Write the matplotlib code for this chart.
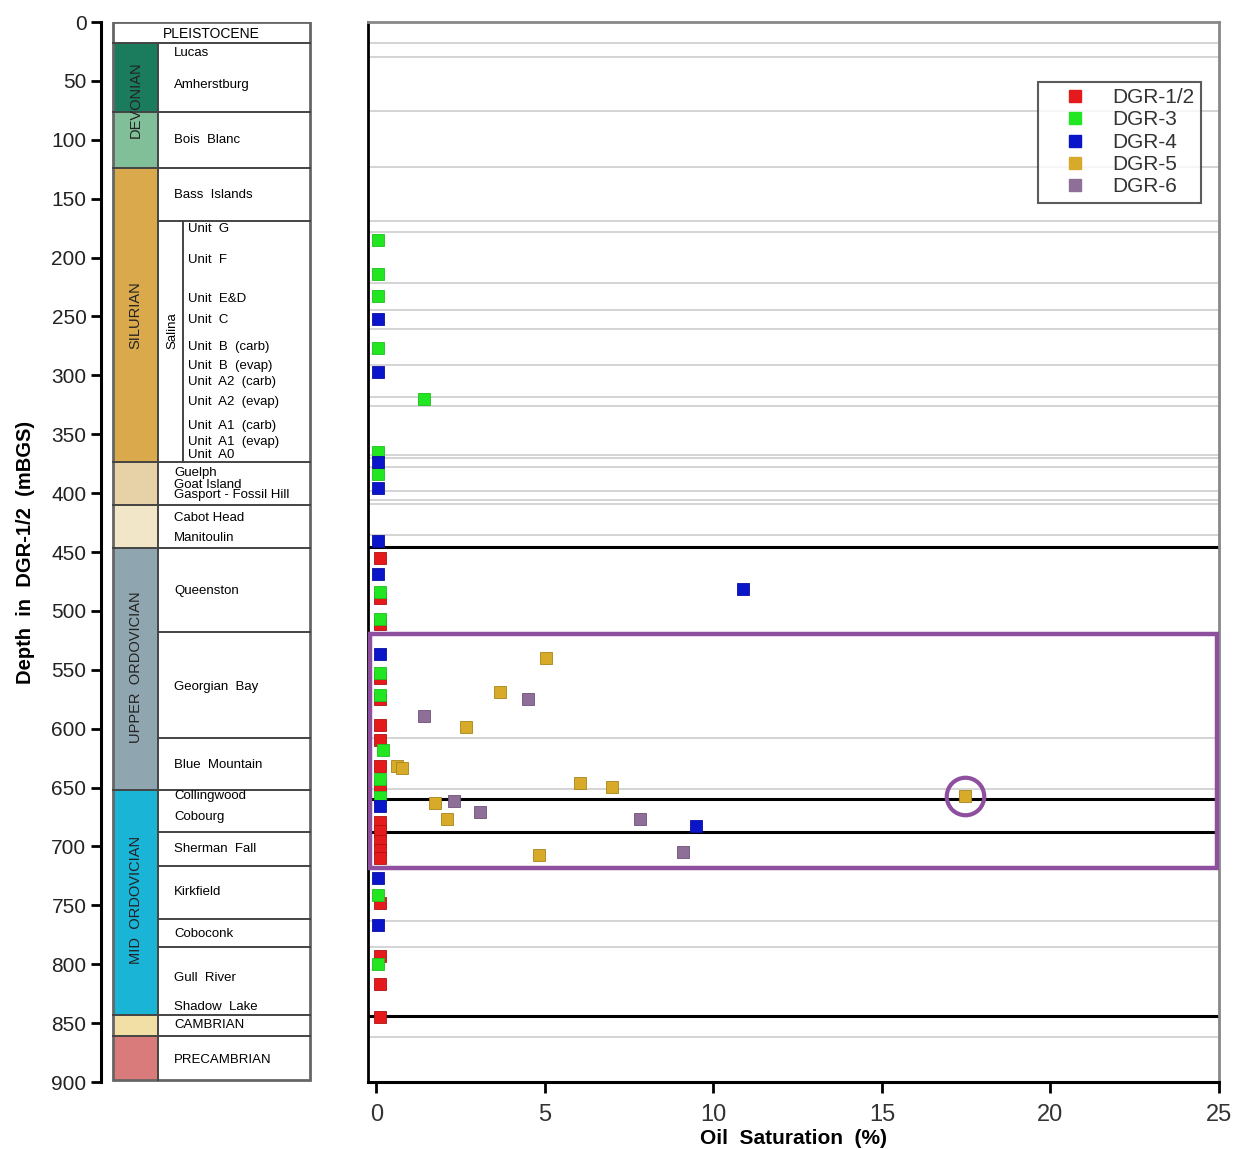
import matplotlib
matplotlib.use('Agg')
import matplotlib.pyplot as plt
from matplotlib.patches import Rectangle
from matplotlib.lines import Line2D

plt.rcParams['font.family'] = ['Liberation Sans', 'DejaVu Sans']

# ---- stratigraphic column (depths in m) ----
block_top = [18, 76, 124, 374, 410, 446.5, 652, 843, 861]
block_bot = [76, 124, 374, 410, 446.5, 652, 843, 861, 898]
block_colors = ['#1b7b5d', '#80bf97', '#d9a94c', '#e6d2a6', '#f2e6c9',
                '#8fa6b0', '#1ab4d6', '#f1dfa5', '#d97b7b']
formation_bounds = [169, 518, 608, 688, 716.5, 762, 785]

period_names = ['DEVONIAN', 'SILURIAN', 'UPPER  ORDOVICIAN', 'MID  ORDOVICIAN']
period_depth = [66, 249, 548, 745]

formation_names = ['Lucas', 'Amherstburg', 'Bois  Blanc', 'Bass  Islands',
                   'Guelph', 'Goat Island', 'Gasport - Fossil Hill',
                   'Cabot Head', 'Manitoulin', 'Queenston', 'Georgian  Bay',
                   'Blue  Mountain', 'Collingwood', 'Cobourg', 'Sherman  Fall',
                   'Kirkfield', 'Coboconk', 'Gull  River', 'Shadow  Lake',
                   'CAMBRIAN', 'PRECAMBRIAN']
formation_depth = [26, 53.5, 100, 147, 383, 393, 402, 421, 438, 483, 564.5,
                   631, 657, 675, 702, 739, 774, 812, 836, 852, 881]

unit_names = ['Unit  G', 'Unit  F', 'Unit  E&D', 'Unit  C', 'Unit  B  (carb)',
              'Unit  B  (evap)', 'Unit  A2  (carb)', 'Unit  A2  (evap)',
              'Unit  A1  (carb)', 'Unit  A1  (evap)', 'Unit  A0']
unit_depth = [176, 202, 235, 253, 276, 292, 306, 322.5, 343, 356.5, 367.5]

# ---- oil saturation data ----
red_sat = [0.1, 0.1, 0.1, 0.1, 0.1, 0.1, 0.1, 0.1, 0.1, 0.1, 0.1, 0.1, 0.1, 0.1, 0.1, 0.1, 0.1, 0.1]
red_depth = [455, 489, 511, 557, 575, 597, 610, 632, 649, 679, 687, 695, 703, 710, 748, 793, 817, 845]

green_sat = [0.05, 0.05, 0.05, 0.05, 1.42, 0.05, 0.05, 0.1, 0.1, 0.1, 0.1, 0.2, 0.1, 0.1, 0.05, 0.05]
green_depth = [185, 214, 233, 277, 320, 365, 384, 484, 507, 553, 571, 618, 643, 658, 741, 800]

blue_sat = [0.05, 0.05, 0.05, 0.05, 0.05, 0.05, 10.88, 0.1, 0.1, 9.49, 0.05, 0.05]
blue_depth = [252, 297, 374, 396, 441, 469, 481, 537, 666, 683, 727, 767]

gold_sat = [5.03, 3.68, 2.67, 0.62, 0.76, 6.03, 6.99, 1.75, 2.08, 4.83, 17.47]
gold_depth = [540, 569, 598.5, 632, 633, 646, 649.5, 663, 677, 707, 657]

purple_sat = [1.42, 4.49, 2.29, 3.08, 7.81, 9.09]
purple_depth = [589.5, 575, 661, 671, 676.5, 704.5]

grey_lines = [17.8, 30, 75.5, 123, 169, 178, 222, 244.5, 260.6, 291, 318, 326,
              367.6, 370, 378, 398, 406, 409, 435.5, 607.5, 651, 763, 785, 861.6]
black_lines = [446, 660, 688, 844]

W, H = 1233, 1149


def fig_rect(x0, y0, x1, y1):
    return [x0 / W, 1 - y1 / H, (x1 - x0) / W, (y1 - y0) / H]


fig = plt.figure(figsize=(W / 100, H / 100), dpi=100)
ax_col = fig.add_axes(fig_rect(101, 22, 312, 1082))
ax = fig.add_axes(fig_rect(368, 22, 1219, 1082))

# ---- column panel ----
ax_col.set_xlim(0, 211)
ax_col.set_ylim(900, 0)
for top, bot, c in zip(block_top, block_bot, block_colors):
    ax_col.add_patch(Rectangle((12, top), 45, bot - top, facecolor=c, edgecolor='none'))
for d in block_top:
    ax_col.plot([12, 209], [d, d], color='#444444', lw=1.4)
for d in formation_bounds:
    ax_col.plot([57, 209], [d, d], color='#444444', lw=1.4)
ax_col.plot([57, 57], [18, 898], color='#444444', lw=1.4)
ax_col.plot([82, 82], [169, 374], color='#444444', lw=1.4)
ax_col.add_patch(Rectangle((12, 0), 197, 898, fill=False, edgecolor='#666666', lw=2))

ax_col.text(110, 10, 'PLEISTOCENE', ha='center', va='center', fontsize=10)
for name, d in zip(period_names, period_depth):
    ax_col.text(34.5, d, name, rotation=90, ha='center', va='center',
                fontsize=10.5, color='#222222')
ax_col.text(71, 262, 'Salina', rotation=90, ha='center', va='center', fontsize=9.5)
for name, d in zip(formation_names, formation_depth):
    ax_col.text(73, d, name, ha='left', va='center', fontsize=9.5)
for name, d in zip(unit_names, unit_depth):
    ax_col.text(87, d, name, ha='left', va='center', fontsize=9.5)

for side in ['top', 'right', 'bottom']:
    ax_col.spines[side].set_visible(False)
ax_col.spines['left'].set_linewidth(2.2)
ax_col.set_xticks([])
ax_col.set_yticks(range(0, 901, 50))
ax_col.tick_params(axis='y', direction='out', length=7, width=2, labelsize=15,
                   labelcolor='#222222')
ax_col.set_ylabel('Depth  in  DGR-1/2  (mBGS)', fontsize=14.5, fontweight='bold',
                  labelpad=12)

# ---- saturation panel ----
ax.set_xlim(-0.25, 25)
ax.set_ylim(900, 0)
for d in grey_lines:
    ax.axhline(d, color='#d4d4d4', lw=1.4, zorder=1)
for d in black_lines:
    ax.axhline(d, color='black', lw=2.2, zorder=2)

ax.add_patch(Rectangle((-0.18, 519.5), 25.12, 198.5, fill=False,
                       edgecolor='#8e4f9e', lw=3.2, zorder=3))

ms = 9
ax.plot(red_sat, red_depth, 's', color='#e41a1c', mec='#b01010', mew=0.6, ms=ms, zorder=4)
ax.plot(green_sat, green_depth, 's', color='#22e622', mec='#1cc01c', mew=0.6, ms=ms, zorder=5)
ax.plot(blue_sat, blue_depth, 's', color='#0a14c8', mec='#0a0ea0', mew=0.6, ms=ms, zorder=5)
ax.plot(gold_sat, gold_depth, 's', color='#d8aa2a', mec='#a88418', mew=0.6, ms=ms, zorder=6)
ax.plot(purple_sat, purple_depth, 's', color='#8e6f98', mec='#6e5078', mew=0.6, ms=ms, zorder=6)

# highlighted DGR-5 sample
ax.plot([gold_sat[-1]], [gold_depth[-1]], 'o', ms=27, mfc='none', mec='#8e4f9e',
        mew=3, zorder=7)

ax.set_yticks([])
ax.set_xticks(range(0, 26, 5))
ax.tick_params(axis='x', direction='out', length=8, width=2, labelsize=17, pad=8,
               labelcolor='#333333')
ax.set_xlabel('Oil  Saturation  (%)', fontsize=15, fontweight='bold', labelpad=2)
ax.spines['left'].set_linewidth(2)
ax.spines['bottom'].set_linewidth(2.2)
for side in ['top', 'right']:
    ax.spines[side].set_color('#888888')
    ax.spines[side].set_linewidth(2)

labels = ['DGR-1/2', 'DGR-3', 'DGR-4', 'DGR-5', 'DGR-6']
colors = ['#e41a1c', '#22e622', '#0a14c8', '#d8aa2a', '#8e6f98']
handles = [Line2D([], [], ls='none', marker='s', ms=8, color=c) for c in colors]
leg = ax.legend(handles, labels, loc='upper left', bbox_to_anchor=(0.787, 0.9435),
                fontsize=15, frameon=True, fancybox=False, labelspacing=0.16,
                handletextpad=0.3, borderpad=0.3, handlelength=3.0,
                borderaxespad=0)
leg.get_frame().set_edgecolor('#333333')
leg.get_frame().set_linewidth(1.5)
for t in leg.get_texts():
    t.set_color('#333333')

fig.savefig('out.png', dpi=100)
